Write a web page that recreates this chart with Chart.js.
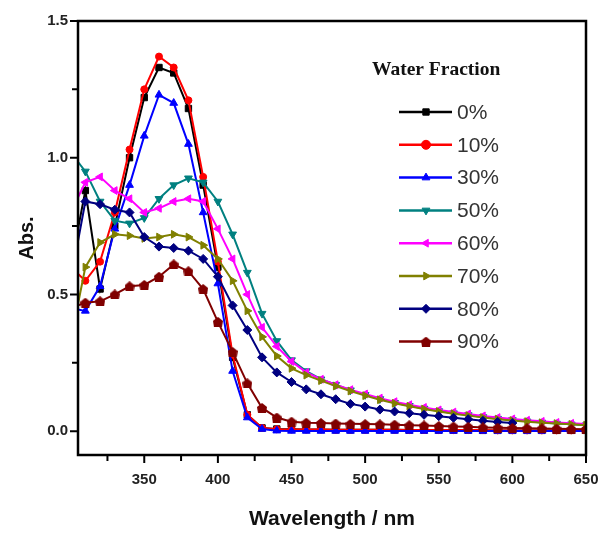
<!DOCTYPE html>
<html lang="en">
<head>
  <meta charset="UTF-8">
  <title>Abs. vs Wavelength</title>
  <style>
    body { margin: 0; background: #fff; }
    #wrap { width: 605px; height: 534px; }
  </style>
  <script src="https://cdn.jsdelivr.net/npm/chart.js"></script>
</head>
<body>
  <div id="wrap"><canvas id="absChart" width="605" height="534"></canvas></div>

  <script>
    // wavelength grid (nm)
    var wavelengths = [300, 310, 320, 330, 340, 350, 360, 370, 380, 390, 400, 410, 420, 430, 440, 450, 460, 470,
                       480, 490, 500, 510, 520, 530, 540, 550, 560, 570, 580, 590, 600, 610, 620, 630, 640, 650];

    var labels = ['0%', '10%', '30%', '50%', '60%', '70%', '80%', '90%'];

    var abs0 = [0.60, 0.88, 0.52, 0.75, 1.00, 1.22, 1.33, 1.31, 1.18, 0.90, 0.60, 0.27, 0.06, 0.012, 0.008, 0.007,
                0.006, 0.006, 0.005, 0.005, 0.005, 0.005, 0.005, 0.004, 0.004, 0.004, 0.004, 0.004, 0.003, 0.003,
                0.003, 0.003, 0.003, 0.003, 0.003, 0.003];
    var abs10 = [0.60, 0.55, 0.62, 0.80, 1.03, 1.25, 1.37, 1.33, 1.21, 0.93, 0.62, 0.28, 0.06, 0.012, 0.007, 0.006,
                 0.006, 0.006, 0.005, 0.005, 0.005, 0.005, 0.005, 0.004, 0.004, 0.004, 0.004, 0.004, 0.004, 0.003,
                 0.003, 0.003, 0.003, 0.003, 0.003, 0.003];
    var abs30 = [0.45, 0.44, 0.53, 0.74, 0.90, 1.08, 1.23, 1.20, 1.05, 0.80, 0.54, 0.22, 0.05, 0.008, 0.002, 0.001,
                 0.001, 0.001, 0.001, 0.001, 0.001, 0.001, 0.001, 0.001, 0.001, 0.001, 0.001, 0.001, 0.001, 0.001,
                 0.001, 0.001, 0.001, 0.001, 0.001, 0.001];
    var abs50 = [1.02, 0.95, 0.84, 0.77, 0.76, 0.78, 0.85, 0.90, 0.925, 0.91, 0.84, 0.72, 0.58, 0.43, 0.33, 0.26,
                 0.22, 0.19, 0.17, 0.15, 0.133, 0.118, 0.104, 0.093, 0.083, 0.074, 0.066, 0.059, 0.052, 0.046,
                 0.041, 0.036, 0.032, 0.028, 0.025, 0.022];
    var abs60 = [0.80, 0.91, 0.93, 0.88, 0.85, 0.80, 0.815, 0.84, 0.85, 0.84, 0.74, 0.63, 0.50, 0.38, 0.31, 0.255,
                 0.215, 0.19, 0.17, 0.152, 0.136, 0.121, 0.108, 0.097, 0.087, 0.078, 0.070, 0.063, 0.056, 0.050,
                 0.045, 0.040, 0.036, 0.032, 0.029, 0.026];
    var abs70 = [0.33, 0.60, 0.69, 0.72, 0.715, 0.705, 0.71, 0.72, 0.71, 0.68, 0.63, 0.55, 0.44, 0.345, 0.275, 0.23,
                 0.205, 0.185, 0.165, 0.147, 0.13, 0.115, 0.102, 0.091, 0.081, 0.072, 0.064, 0.057, 0.05, 0.044,
                 0.039, 0.035, 0.031, 0.028, 0.025, 0.022];
    var abs80 = [0.55, 0.84, 0.83, 0.81, 0.80, 0.71, 0.675, 0.67, 0.66, 0.63, 0.565, 0.46, 0.37, 0.27, 0.215, 0.18,
                 0.153, 0.135, 0.117, 0.10, 0.09, 0.079, 0.072, 0.066, 0.06, 0.055, 0.049, 0.044, 0.038, 0.034,
                 0.03, null, null, null, null, null];
    var abs90 = [0.45, 0.47, 0.475, 0.50, 0.53, 0.535, 0.565, 0.61, 0.585, 0.52, 0.40, 0.29, 0.175, 0.085, 0.05, 0.035,
                 0.031, 0.03, 0.028, 0.027, 0.026, 0.025, 0.024, 0.022, 0.021, 0.019, 0.017, 0.016, 0.014, 0.013,
                 0.012, 0.011, 0.01, 0.009, 0.008, 0.007];

    var series = [abs0, abs10, abs30, abs50, abs60, abs70, abs80, abs90];
    var colors = ['#000000', '#ff0000', '#0000ff', '#008080', '#ff00ff', '#808000', '#000080', '#800000'];

    // axis ticks
    var xMajor = [350, 400, 450, 500, 550, 600, 650];
    var xMinor = [325, 375, 425, 475, 525, 575, 625];
    var yMajor = [0, 0.5, 1.0, 1.5];
    var yMinor = [0.25, 0.75, 1.25];

    // small "house" marker for the 90% curve
    var house = document.createElement('canvas');
    house.width = 10; house.height = 10;
    var hc = house.getContext('2d');
    hc.fillStyle = '#800000';
    hc.beginPath();
    hc.moveTo(5, 0); hc.lineTo(10, 4); hc.lineTo(9, 10); hc.lineTo(1, 10); hc.lineTo(0, 4);
    hc.closePath(); hc.fill();

    var markers = [
      { style: 'rect', rot: 0 },
      { style: 'circle', rot: 0 },
      { style: 'triangle', rot: 0 },
      { style: 'triangle', rot: 180 },
      { style: 'triangle', rot: 270 },
      { style: 'triangle', rot: 90 },
      { style: 'rectRot', rot: 0 },
      { style: house, rot: 0 }
    ];

    var datasets = series.map(function (vals, i) {
      return {
        label: labels[i],
        data: vals.map(function (v, k) { return { x: wavelengths[k], y: v }; }),
        borderColor: colors[i],
        backgroundColor: colors[i],
        borderWidth: 2,
        pointStyle: markers[i].style,
        rotation: markers[i].rot,
        pointRadius: i === 1 ? 3.5 : 4.5,
        pointBorderWidth: 1,
        tension: 0,
        clip: 0,
        spanGaps: false,
        order: series.length - 1 - i
      };
    });

    // box, tick marks and the inner legend
    var framePlugin = {
      id: 'frame',
      afterDraw: function (chart) {
        var ctx = chart.ctx, a = chart.chartArea;
        var xs = chart.scales.x, ys = chart.scales.y;
        ctx.save();
        ctx.strokeStyle = '#000';
        ctx.lineWidth = 2.5;
        ctx.strokeRect(a.left, a.top, a.right - a.left, a.bottom - a.top);

        ctx.lineWidth = 2;
        ctx.beginPath();
        xMajor.forEach(function (v) { var p = xs.getPixelForValue(v); ctx.moveTo(p, a.bottom); ctx.lineTo(p, a.bottom + 8); });
        xMinor.forEach(function (v) { var p = xs.getPixelForValue(v); ctx.moveTo(p, a.bottom); ctx.lineTo(p, a.bottom + 6); });
        yMajor.forEach(function (v) { var p = ys.getPixelForValue(v); ctx.moveTo(a.left, p); ctx.lineTo(a.left - 8, p); });
        yMinor.forEach(function (v) { var p = ys.getPixelForValue(v); ctx.moveTo(a.left, p); ctx.lineTo(a.left - 6, p); });
        ctx.stroke();

        // legend
        ctx.fillStyle = '#111';
        ctx.font = 'bold 19.5px "Liberation Serif", "Times New Roman", serif';
        ctx.textAlign = 'left';
        ctx.textBaseline = 'middle';
        ctx.fillText('Water Fraction', 372, 70);

        ctx.font = '21px "Liberation Sans", Arial, sans-serif';
        chart.data.datasets.forEach(function (ds, i) {
          var y = 112 + i * 32.8;
          ctx.strokeStyle = ds.borderColor;
          ctx.lineWidth = 2.5;
          ctx.beginPath(); ctx.moveTo(399, y); ctx.lineTo(452, y); ctx.stroke();
          ctx.fillStyle = ds.backgroundColor;
          ctx.lineWidth = 1;
          Chart.helpers.drawPoint(ctx, { pointStyle: ds.pointStyle, rotation: ds.rotation, radius: 4.5, borderWidth: 1 }, 426, y);
          ctx.fillStyle = '#333';
          ctx.fillText(ds.label, 457, y + 1);
        });
        ctx.restore();
      }
    };

    var tickFont = { family: '"Liberation Sans", Arial, sans-serif', size: 15, weight: 'bold' };
    var titleFont = { family: '"Liberation Sans", Arial, sans-serif', size: 21, weight: 'bold' };

    var absChart = new Chart('absChart', {
      type: 'line',
      data: { datasets: datasets },
      plugins: [framePlugin],
      options: {
        responsive: false,
        animation: false,
        layout: { padding: { top: 21, right: 19, left: 0, bottom: 0 } },
        plugins: { legend: { display: false }, tooltip: { enabled: false } },
        scales: {
          x: {
            type: 'linear',
            min: 305,
            max: 650,
            afterBuildTicks: function (s) { s.ticks = xMajor.map(function (v) { return { value: v }; }); },
            afterFit: function (s) { s.height = 79; s.paddingRight = 0; s.paddingLeft = 0; },
            grid: { display: false, drawTicks: false },
            border: { display: false },
            ticks: { padding: 16, font: tickFont, color: '#222', maxRotation: 0, autoSkip: false },
            title: { display: true, text: 'Wavelength / nm', font: titleFont, color: '#111', padding: { top: 0, bottom: 2 } }
          },
          y: {
            type: 'linear',
            min: -0.087,
            max: 1.5,
            afterBuildTicks: function (s) { s.ticks = yMajor.map(function (v) { return { value: v }; }); },
            afterFit: function (s) { s.width = 78; s.paddingTop = 0; s.paddingBottom = 0; },
            grid: { display: false, drawTicks: false },
            border: { display: false },
            ticks: { padding: 10, font: tickFont, color: '#222', callback: function (v) { return v.toFixed(1); } },
            title: { display: true, text: 'Abs.', font: { family: titleFont.family, size: 20, weight: 'bold' }, color: '#111', padding: { top: 15, bottom: 0 } }
          }
        }
      }
    });
  </script>
</body>
</html>
